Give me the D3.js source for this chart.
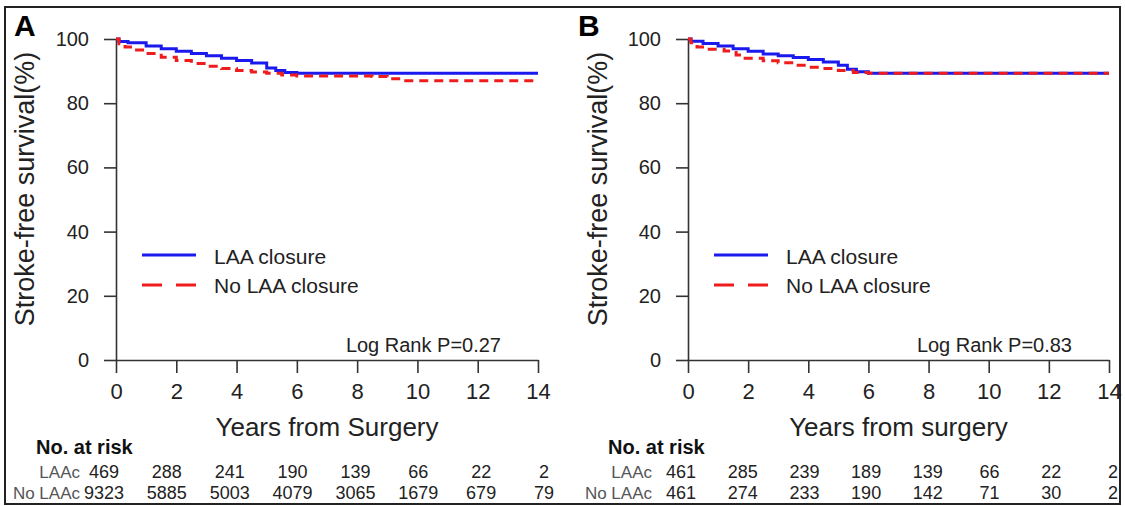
<!DOCTYPE html>
<html>
<head>
<meta charset="utf-8">
<style>
  body { margin: 0; background: #fff; }
  text { font-family: "Liberation Sans", Arial, Helvetica, sans-serif; }
</style>
<script src="https://d3js.org/d3.v7.min.js"></script>
</head>
<body>
<svg width="1125" height="506"></svg>
<script>
// tick labels
var yearTicks = [0, 2, 4, 6, 8, 10, 12, 14];
var survTicks = [0, 20, 40, 60, 80, 100];

// panel A curves (years, % stroke-free)
var timeA_laac = [0, 0.1, 0.4, 1.0, 1.5, 2.0, 2.5, 3.0, 3.5, 4.0, 4.5, 5.0, 5.3, 5.6, 6.0, 14];
var survA_laac = [100, 99.2, 98.8, 97.8, 97.0, 96.2, 95.5, 94.8, 94.0, 93.3, 92.5, 91.0, 90.2, 89.6, 89.3, 89.3];
var timeA_no = [0, 0.1, 0.3, 0.6, 1.0, 1.5, 2.0, 2.5, 3.0, 3.5, 4.0, 4.5, 5.0, 5.5, 6.0, 8.5, 9.0, 9.5, 14];
var survA_no = [100, 98.5, 97.5, 96.6, 95.5, 94.3, 93.3, 92.4, 91.5, 90.8, 90.2, 89.7, 89.3, 88.8, 88.5, 88.3, 87.6, 87.0, 87.0];

// panel B curves
var timeB_laac = [0, 0.1, 0.5, 1.0, 1.5, 2.0, 2.5, 3.0, 3.5, 4.0, 4.5, 5.0, 5.3, 5.6, 6.0, 14];
var survB_laac = [100, 99.3, 98.6, 97.8, 97.0, 96.2, 95.3, 94.8, 94.2, 93.6, 92.8, 91.8, 90.6, 89.8, 89.3, 89.3];
var timeB_no = [0, 0.1, 0.3, 0.6, 1.2, 1.6, 1.9, 2.5, 3.0, 3.5, 4.0, 4.5, 5.0, 5.5, 6.0, 14];
var survB_no = [100, 98.8, 97.5, 96.8, 96.3, 95.0, 94.0, 93.2, 92.6, 91.8, 91.2, 90.8, 90.2, 89.6, 89.3, 89.3];

// numbers at risk
var riskA_laac = [469, 288, 241, 190, 139, 66, 22, 2];
var riskA_no = [9323, 5885, 5003, 4079, 3065, 1679, 679, 79];
var riskB_laac = [461, 285, 239, 189, 139, 66, 22, 2];
var riskB_no = [461, 274, 233, 190, 142, 71, 30, 2];

var svg = d3.select("svg");

function pairs(t, s) {
    return t.map(function(d, i) { return [d, s[i]]; });
}

function drawPanel(p) {
    var x = d3.scaleLinear().domain([0, 14]).range([p.x0, p.x1]),
        y = d3.scaleLinear().domain([0, 100]).range([360, 39]),
        // the risk table columns are spread a bit wider than the axis
        xt = d3.scaleLinear().domain([0, 14]).range(p.tableRange);

    var g = svg.append("g");

    // panel letter
    g.append("text")
        .attr("x", p.letterX).attr("y", 36)
        .attr("font-size", 30).attr("font-weight", "bold")
        .text(p.letter);

    var yAxis = g.append("g")
        .attr("transform", "translate(" + p.x0 + ",0)")
        .call(d3.axisLeft(y).tickValues(survTicks).tickSize(12).tickSizeOuter(0).tickPadding(15));
    var xAxis = g.append("g")
        .attr("transform", "translate(0,360)")
        .call(d3.axisBottom(x).tickValues(yearTicks).tickSize(13).tickSizeOuter(0).tickPadding(10));

    yAxis.attr("font-size", 20).attr("font-family", null);
    xAxis.attr("font-size", 22).attr("font-family", null);
    g.selectAll(".domain, .tick line").attr("stroke", "#333").attr("stroke-width", 1.6);
    g.selectAll(".tick text").attr("fill", "#222");

    // axis titles
    g.append("text")
        .attr("transform", "translate(" + p.titleX + ",189) rotate(-90)")
        .attr("text-anchor", "middle")
        .attr("font-size", 27)
        .attr("fill", "#222")
        .text("Stroke-free survival(%)");

    g.append("text")
        .attr("x", (p.x0 + p.x1) / 2).attr("y", 436)
        .attr("text-anchor", "middle")
        .attr("font-size", 26)
        .attr("fill", "#222")
        .text(p.xTitle);

    // curves: blue first, red dashed on top
    var line = d3.line()
        .x(function(d) { return x(d[0]); })
        .y(function(d) { return y(d[1]); })
        .curve(d3.curveStepAfter);

    g.append("path")
        .datum(pairs(p.tLaac, p.sLaac))
        .attr("fill", "none")
        .attr("stroke", "#1a1aee")
        .attr("stroke-width", 3)
        .attr("d", line);

    g.append("path")
        .datum(pairs(p.tNo, p.sNo))
        .attr("fill", "none")
        .attr("stroke", "#ee1c1c")
        .attr("stroke-width", 3)
        .attr("stroke-dasharray", "9,6")
        .attr("d", line);

    // legend
    var lx = p.x0 + 26;
    g.append("line")
        .attr("x1", lx).attr("x2", lx + 54)
        .attr("y1", 255).attr("y2", 255)
        .attr("stroke", "#1a1aee").attr("stroke-width", 3);
    g.append("line")
        .attr("x1", lx).attr("x2", lx + 54)
        .attr("y1", 285).attr("y2", 285)
        .attr("stroke", "#ee1c1c").attr("stroke-width", 3)
        .attr("stroke-dasharray", "20,14");
    g.append("text")
        .attr("x", lx + 72).attr("y", 264)
        .attr("font-size", 21).attr("fill", "#222")
        .text("LAA closure");
    g.append("text")
        .attr("x", lx + 72).attr("y", 293)
        .attr("font-size", 21).attr("fill", "#222")
        .text("No LAA closure");

    g.append("text")
        .attr("x", p.x1 - 37).attr("y", 352)
        .attr("text-anchor", "end")
        .attr("font-size", 20).attr("fill", "#222")
        .text(p.pText);

    // numbers at risk table
    g.append("text")
        .attr("x", p.x0 - 80).attr("y", 454)
        .attr("font-size", 20).attr("font-weight", "bold").attr("fill", "#111")
        .text("No. at risk");

    var rows = [
        {label: "LAAc", vals: p.rLaac, yy: 478},
        {label: "No LAAc", vals: p.rNo, yy: 499}
    ];
    rows.forEach(function(r) {
        g.append("text")
            .attr("x", p.x0 - 36).attr("y", r.yy)
            .attr("text-anchor", "end")
            .attr("font-size", 17).attr("fill", "#555")
            .text(r.label);
        g.selectAll(null)
            .data(r.vals)
            .enter().append("text")
            .attr("x", function(d, i) { return xt(yearTicks[i]); })
            .attr("y", r.yy)
            .attr("text-anchor", "middle")
            .attr("font-size", 18).attr("fill", "#222")
            .text(function(d) { return d; });
    });
}

drawPanel({
    letter: "A", letterX: 14, x0: 116, x1: 538, titleX: 34, tableRange: [104, 544],
    xTitle: "Years from Surgery", pText: "Log Rank P=0.27",
    tLaac: timeA_laac, sLaac: survA_laac, tNo: timeA_no, sNo: survA_no,
    rLaac: riskA_laac, rNo: riskA_no
});

drawPanel({
    letter: "B", letterX: 578, x0: 688, x1: 1109, titleX: 607, tableRange: [681, 1113],
    xTitle: "Years from surgery", pText: "Log Rank P=0.83",
    tLaac: timeB_laac, sLaac: survB_laac, tNo: timeB_no, sNo: survB_no,
    rLaac: riskB_laac, rNo: riskB_no
});

// outer frame
svg.append("rect")
    .attr("x", 5).attr("y", 7)
    .attr("width", 1115).attr("height", 497)
    .attr("fill", "none")
    .attr("stroke", "#222")
    .attr("stroke-width", 2);
</script>
</body>
</html>
